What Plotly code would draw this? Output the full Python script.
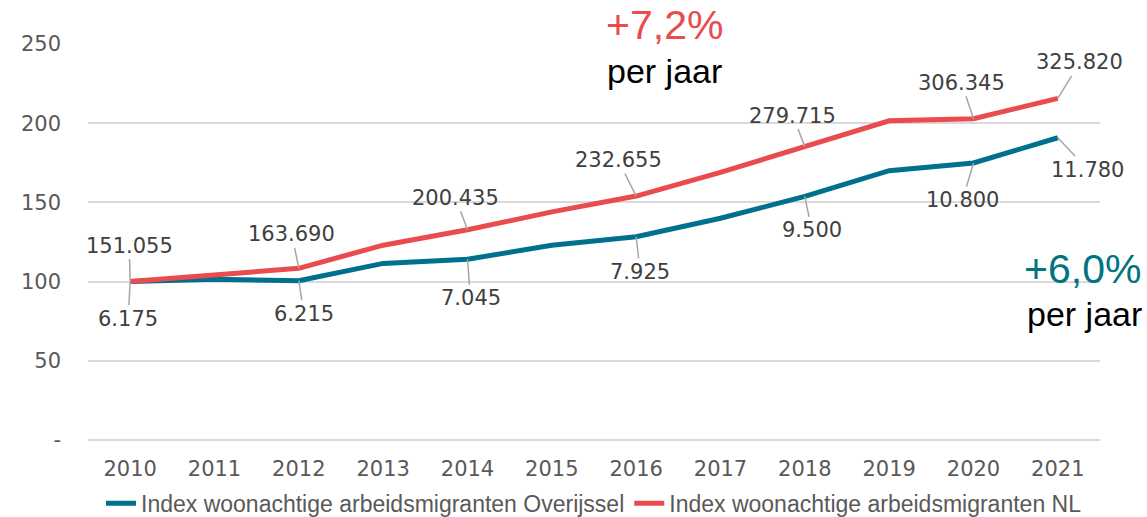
import plotly.graph_objects as go

# ---- data ----
years = [2010, 2011, 2012, 2013, 2014, 2015, 2016, 2017, 2018, 2019, 2020, 2021]
index_nl = [100, 104.5, 108.4, 123.0, 132.7, 144.0, 154.0, 169.0, 185.2, 201.5, 202.8, 215.7]
index_ov = [100, 101.5, 100.6, 111.5, 114.1, 123.0, 128.3, 140.0, 153.8, 170.0, 174.9, 190.8]

label_years = [2010, 2012, 2014, 2016, 2018, 2020, 2021]
labels_nl = ["151.055", "163.690", "200.435", "232.655", "279.715", "306.345", "325.820"]
labels_ov = ["6.175", "6.215", "7.045", "7.925", "9.500", "10.800", "11.780"]

y_tickvals = [0, 50, 100, 150, 200, 250]
y_ticktext = ["-", "50", "100", "150", "200", "250"]

name_ov = "Index woonachtige arbeidsmigranten Overijssel"
name_nl = "Index woonachtige arbeidsmigranten NL"
growth_nl = "+7,2%"
growth_ov = "+6,0%"
per_year = "per jaar"

# ---- styles ----
RED = "#E94B4F"
TEAL = "#00708C"
TEAL_TXT = "#00747F"
GRID = "#D9D9D9"
TICK = "#595959"
LBL = "#404040"
LEADER = "#A6A6A6"

# label offsets (pixels) of label centre relative to its point
off_nl = [(-1, -36), (-7, -34), (-12, -32), (-18, -36), (-12, -31), (-12, -36), (22, -36)]
off_ov = [(-2, 37), (5, 33), (3, 39), (4, 35), (7, 34), (-11, 37), (30, 32)]

fig = go.Figure()
fig.add_trace(go.Scatter(x=years, y=index_ov, mode="lines", name=name_ov,
                         line=dict(color=TEAL, width=5)))
fig.add_trace(go.Scatter(x=years, y=index_nl, mode="lines", name=name_nl,
                         line=dict(color=RED, width=5)))

annotations = []
for yr, txt, (dx, dy) in zip(label_years, labels_nl, off_nl):
    yv = index_nl[years.index(yr)]
    annotations.append(dict(x=yr, y=yv, xref="x", yref="y", text=txt, showarrow=True,
                             ax=dx, ay=dy, arrowhead=0, arrowwidth=1.5, arrowcolor=LEADER,
                             standoff=0, font=dict(family="DejaVu Sans", size=21, color=LBL)))
for yr, txt, (dx, dy) in zip(label_years, labels_ov, off_ov):
    yv = index_ov[years.index(yr)]
    annotations.append(dict(x=yr, y=yv, xref="x", yref="y", text=txt, showarrow=True,
                             ax=dx, ay=dy, arrowhead=0, arrowwidth=1.5, arrowcolor=LEADER,
                             standoff=0, font=dict(family="DejaVu Sans", size=21, color=LBL)))

# growth callouts
annotations += [
    dict(x=0.570, y=1.048, xref="paper", yref="paper", text=growth_nl, showarrow=False,
         font=dict(family="Liberation Sans", size=41, color=RED), xanchor="center", yanchor="middle"),
    dict(x=0.570, y=0.932, xref="paper", yref="paper", text=per_year, showarrow=False,
         font=dict(family="Liberation Sans", size=34, color="#000000"), xanchor="center", yanchor="middle"),
    dict(x=0.983, y=0.432, xref="paper", yref="paper", text=growth_ov, showarrow=False,
         font=dict(family="Liberation Sans", size=41, color=TEAL_TXT), xanchor="center", yanchor="middle"),
    dict(x=0.985, y=0.318, xref="paper", yref="paper", text=per_year, showarrow=False,
         font=dict(family="Liberation Sans", size=34, color="#000000"), xanchor="center", yanchor="middle"),
]

fig.update_layout(
    width=1147, height=517,
    margin=dict(l=88, r=47, t=44, b=77, autoexpand=False),
    paper_bgcolor="white", plot_bgcolor="white",
    showlegend=True,
    legend=dict(orientation="h", x=0.5, xanchor="center", y=-0.160, yanchor="middle",
                font=dict(family="Liberation Sans", size=23, color=TICK),
                itemwidth=30, bgcolor="rgba(0,0,0,0)", traceorder="normal"),
    annotations=annotations,
)
fig.update_xaxes(range=[2009.5, 2021.5], tickvals=years, ticktext=[str(y) for y in years],
                 showgrid=False, zeroline=False, showline=False, ticks="",
                 ticklabelstandoff=14,
                 tickfont=dict(family="DejaVu Sans", size=21, color=TICK))
fig.update_yaxes(range=[0, 250], tickvals=y_tickvals, ticktext=y_ticktext,
                 showgrid=True, gridcolor=GRID, gridwidth=1.5,
                 zeroline=True, zerolinecolor=GRID, zerolinewidth=1.5,
                 showline=False, ticks="", ticklabelstandoff=26,
                 tickfont=dict(family="DejaVu Sans", size=21, color=TICK))

fig.write_html("out.html", config={"displayModeBar": False},
               post_script="document.body.style.margin='0px';document.body.style.overflow='hidden';")
